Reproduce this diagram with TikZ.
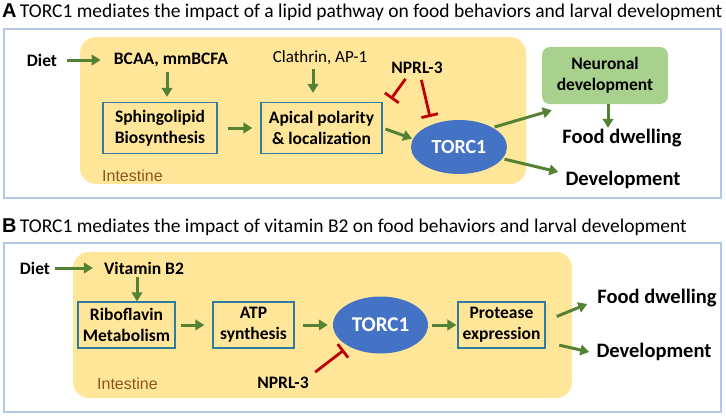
\documentclass[tikz,border=0pt]{standalone}
\usepackage{fontspec}
\setmainfont{Carlito}
\newfontfamily\arialfont{Liberation Sans}
\usetikzlibrary{arrows.meta, positioning, shapes.geometric}

\definecolor{framebl}{RGB}{180,199,231}
\definecolor{gutyel}{RGB}{255,230,153}
\definecolor{gutbr}{RGB}{140,85,30}
\definecolor{boxbl}{RGB}{46,125,160}
\definecolor{actgr}{RGB}{84,130,53}
\definecolor{inhrd}{RGB}{192,0,0}
\definecolor{torcbl}{RGB}{68,114,196}
\definecolor{neurogr}{RGB}{169,209,142}

\begin{document}
\begin{tikzpicture}[x=1pt, y=-1pt,
    frame/.style={draw=framebl, line width=1.3pt},
    gut/.style={fill=gutyel, rounded corners=16pt},
    gutlabel/.style={text=gutbr, font=\arialfont\fontsize{16}{18}\selectfont, inner sep=0pt},
    lbl/.style={font=\bfseries\fontsize{17.5}{21}\selectfont, inner sep=0pt},
    procbox/.style={draw=boxbl, line width=1.2pt, align=center, inner sep=0pt,
        font=\bfseries\fontsize{17.5}{21}\selectfont},
    torc/.style={ellipse, fill=torcbl, text=white, inner sep=0pt, font=\bfseries},
    outcome/.style={font=\bfseries\fontsize{20.5}{23}\selectfont, inner sep=0pt},
    title/.style={anchor=west, inner sep=0pt, font=\fontsize{19.5}{22}\selectfont},
    act/.style={draw=actgr, line width=3pt, -{Triangle[length=9pt,width=10.5pt]}},
    inh/.style={draw=inhrd, line width=2.8pt, -{Bar[width=17pt]}}]
\useasboundingbox (0,0) rectangle (726,416);

% A
\node[title] (titleA) at (2,12)
    {{\arialfont\bfseries\fontsize{20}{20}\selectfont A}\,TORC1 mediates the impact of a lipid pathway on food behaviors and larval development};
\draw[frame] (4,29) rectangle (721,198);
\fill[gut] (80,37) rectangle (526,184);
\node[gutlabel, anchor=west] (intA) at (102,176) {Intestine};

\node[lbl] (dietA) at (42,60) {Diet};
\node[lbl] (bcaa) at (171,60) {BCAA, mmBCFA};
\node[lbl, font=\fontsize{17}{20}\selectfont] (clath) at (320,58) {Clathrin, AP-1};
\node[lbl] (nprlA) at (417,68) {NPRL-3};
\node[procbox, minimum width=114pt, minimum height=51pt] (sphA) at (160,128) {Sphingolipid\\Biosynthesis};
\node[procbox, minimum width=121pt, minimum height=51pt] (apical) at (321.5,128) {Apical polarity\\\& localization};
\node[torc, minimum width=96pt, minimum height=54pt, font=\bfseries\fontsize{20}{22}\selectfont] (torcA) at (459,147) {TORC1};
\node[fill=neurogr, rounded corners=8pt, minimum width=126pt, minimum height=57pt, align=center,
    inner sep=0pt, font=\bfseries\fontsize{17.5}{21}\selectfont] (neuro) at (605,75.5) {Neuronal\\development};
\node[outcome] (foodA) at (622,138) {Food dwelling};
\node[outcome] (devA) at (623,180) {Development};

\coordinate (bcaaOut) at ([xshift=-4pt]bcaa.south);
\coordinate (clathOut) at ([xshift=-7pt]clath.south);
\coordinate (inhA1) at (391,99);
\coordinate (inhA2) at (430,117);

\draw[act] ([xshift=10pt]dietA.east) -- ([xshift=-13pt]bcaa.west);
\draw[act, shorten <=5pt, shorten >=5pt] (bcaaOut) -- (bcaaOut |- sphA.north);
\draw[act, shorten <=4pt, shorten >=9pt] (clathOut) -- (clathOut |- apical.north);
\draw[act, shorten <=10pt, shorten >=8pt] (sphA) -- (apical);
\draw[act, shorten <=3pt, shorten >=1pt] (apical.east) -- (torcA.170);
\draw[act, shorten <=2pt] (torcA.30) -- ([xshift=10pt,yshift=-6pt]neuro.south west);
\draw[act, shorten <=2pt] (torcA.-15) -- ([xshift=-7pt,yshift=8pt]devA.west);
\draw[act, shorten >=1pt] ([xshift=3pt]neuro.south) -- ([xshift=3pt]neuro.south |- foodA.north);
\draw[inh, shorten <=6pt] ([xshift=-8pt]nprlA.south) -- (inhA1);
\draw[inh, shorten <=6pt] ([xshift=3pt]nprlA.south) -- (inhA2);

% B
\node[title] (titleB) at (2,227)
    {{\arialfont\bfseries\fontsize{20}{20}\selectfont B}\,TORC1 mediates the impact of vitamin B2 on food behaviors and larval development};
\draw[frame] (4,243) rectangle (721,412);
\fill[gut] (73,252) rectangle (572,398);
\node[gutlabel, anchor=west] (intB) at (97,384) {Intestine};

\node[lbl] (dietB) at (35,268) {Diet};
\node[lbl] (vitB) at (144,268) {Vitamin B2};
\node[lbl] (nprlB) at (283,383) {NPRL-3};
\node[procbox, minimum width=97pt, minimum height=46pt] (ribo) at (126.5,325) {Riboflavin\\Metabolism};
\node[procbox, minimum width=81pt, minimum height=46pt] (atp) at (253.5,325) {ATP\\synthesis};
\node[torc, minimum width=95pt, minimum height=57pt, font=\bfseries\fontsize{21}{23}\selectfont] (torcB) at (380.5,325) {TORC1};
\node[procbox, minimum width=87pt, minimum height=46pt] (prot) at (501.5,325) {Protease\\expression};
\node[outcome] (foodB) at (657,298) {Food dwelling};
\node[outcome] (devB) at (654,352) {Development};

\coordinate (vitOut) at ([xshift=-7pt]vitB.south);
\coordinate (inhB) at (344,350);

\draw[act] ([xshift=5pt]dietB.east) -- ([xshift=-11pt]vitB.west);
\draw[act, shorten <=3pt] (vitOut) -- (vitOut |- ribo.north);
\draw[act, shorten <=5pt, shorten >=8pt] (ribo) -- (atp);
\draw[act, shorten <=8pt, shorten >=5pt] (atp) -- (torcB);
\draw[act, shorten <=4pt, shorten >=1pt] (torcB) -- (prot);
\draw[act, shorten <=12pt] ([yshift=4pt]prot.east) -- ([xshift=-10pt,yshift=-6pt]foodB.west);
\draw[act, shorten <=14pt] ([yshift=-17pt]prot.east) -- ([xshift=-7pt]devB.west);
\draw[inh, shorten <=8pt] (nprlB.north east) -- (inhB);
\end{tikzpicture}
\end{document}
